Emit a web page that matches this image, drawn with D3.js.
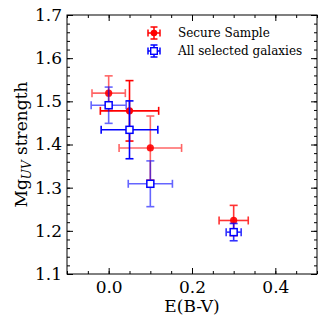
<!DOCTYPE html>
<html>
<head>
<meta charset="utf-8">
<script src="https://cdn.jsdelivr.net/npm/d3@7"></script>
<style>
  body { margin: 0; background: #fff; }
  text { font-family: 'DejaVu Serif', serif; fill: #000; }
</style>
</head>
<body>
<svg width="327" height="327"></svg>
<script>
/* global d3 */
// data
const ebv = [0.0, 0.05, 0.1, 0.3]
const secureMg = [1.519, 1.478, 1.392, 1.224]
const secureErrX = [0.04, 0.07, 0.075, 0.035]
const secureErrY = [0.04, 0.07, 0.074, 0.035]
const allMg = [1.491, 1.434, 1.309, 1.197]
const allErrX = [0.042, 0.068, 0.053, 0.018]
const allErrY = [0.042, 0.067, 0.053, 0.02]
const seriesNames = ['Secure Sample', 'All selected galaxies']
const xTicks = [0.0, 0.2, 0.4]
const yTicks = [1.1, 1.2, 1.3, 1.4, 1.5, 1.6, 1.7]

// styling
const redC = '#ff0000'
const blueC = '#0000ff'
const barOpacity = [0.6, 1, 0.6, 0.8]
const capHalf = 4

const svg = d3.select('svg')
const width = +svg.attr('width')
const height = +svg.attr('height')
const margin = { top: 15, right: 10, bottom: 53, left: 67 }

const x = d3.scaleLinear().domain([-0.1, 0.5]).range([margin.left, width - margin.right])
const y = d3.scaleLinear().domain([1.1, 1.7]).range([height - margin.bottom, margin.top])

const xMinor = d3.range(-0.1, 0.5001, 0.05).map(d => +d.toFixed(2))
const yMinor = d3.range(1.1, 1.7001, 0.02).map(d => +d.toFixed(2))

function styleAxis (g) {
  g.select('.domain').remove()
  g.selectAll('.tick line').attr('stroke', '#000').attr('stroke-width', 1)
  g.selectAll('.tick text').style('font-family', "'DejaVu Serif', serif").style('font-size', '17px')
}

// major + minor ticks on every side, pointing inward
const bottomY = height - margin.bottom
const rightX = width - margin.right
svg.append('g').attr('transform', `translate(0,${bottomY})`)
  .call(d3.axisBottom(x).tickValues(xTicks).tickSize(-6).tickPadding(7).tickFormat(d3.format('.1f')))
  .call(styleAxis)
svg.append('g').attr('transform', `translate(0,${bottomY})`)
  .call(d3.axisBottom(x).tickValues(xMinor).tickSize(-3).tickFormat(''))
  .call(styleAxis)
svg.append('g').attr('transform', `translate(0,${margin.top})`)
  .call(d3.axisTop(x).tickValues(xTicks).tickSize(-6).tickFormat(''))
  .call(styleAxis)
svg.append('g').attr('transform', `translate(0,${margin.top})`)
  .call(d3.axisTop(x).tickValues(xMinor).tickSize(-3).tickFormat(''))
  .call(styleAxis)
svg.append('g').attr('transform', `translate(${margin.left},0)`)
  .call(d3.axisLeft(y).tickValues(yTicks).tickSize(-6).tickPadding(5).tickFormat(d3.format('.1f')))
  .call(styleAxis)
svg.append('g').attr('transform', `translate(${margin.left},0)`)
  .call(d3.axisLeft(y).tickValues(yMinor).tickSize(-3).tickFormat(''))
  .call(styleAxis)
svg.append('g').attr('transform', `translate(${rightX},0)`)
  .call(d3.axisRight(y).tickValues(yTicks).tickSize(-6).tickFormat(''))
  .call(styleAxis)
svg.append('g').attr('transform', `translate(${rightX},0)`)
  .call(d3.axisRight(y).tickValues(yMinor).tickSize(-3).tickFormat(''))
  .call(styleAxis)

svg.append('rect')
  .attr('x', margin.left).attr('y', margin.top)
  .attr('width', rightX - margin.left).attr('height', bottomY - margin.top)
  .attr('fill', 'none').attr('stroke', '#000').attr('stroke-width', 1)

// error bars
function drawBars (g, cx, cy, x0, x1, y0, y1, color, op) {
  const b = g.append('g').attr('stroke', color).attr('stroke-width', 1.6).attr('opacity', op)
  b.append('line').attr('x1', x0).attr('x2', x1).attr('y1', cy).attr('y2', cy)
  b.append('line').attr('x1', cx).attr('x2', cx).attr('y1', y0).attr('y2', y1)
  b.append('line').attr('x1', x0).attr('x2', x0).attr('y1', cy - capHalf).attr('y2', cy + capHalf)
  b.append('line').attr('x1', x1).attr('x2', x1).attr('y1', cy - capHalf).attr('y2', cy + capHalf)
  b.append('line').attr('x1', cx - capHalf).attr('x2', cx + capHalf).attr('y1', y0).attr('y2', y0)
  b.append('line').attr('x1', cx - capHalf).attr('x2', cx + capHalf).attr('y1', y1).attr('y2', y1)
}

const secure = svg.append('g').attr('class', 'secure')
ebv.forEach((e, i) => {
  drawBars(secure, x(e), y(secureMg[i]),
    x(e - secureErrX[i]), x(e + secureErrX[i]),
    y(secureMg[i] + secureErrY[i]), y(secureMg[i] - secureErrY[i]), redC, barOpacity[i])
  secure.append('circle')
    .attr('cx', x(e)).attr('cy', y(secureMg[i])).attr('r', 3.6)
    .attr('fill', redC).attr('opacity', barOpacity[i] < 1 ? 0.9 : 1)
})

const all = svg.append('g').attr('class', 'all')
ebv.forEach((e, i) => {
  drawBars(all, x(e), y(allMg[i]),
    x(e - allErrX[i]), x(e + allErrX[i]),
    y(allMg[i] + allErrY[i]), y(allMg[i] - allErrY[i]), blueC, barOpacity[i])
  all.append('rect')
    .attr('x', x(e) - 3.5).attr('y', y(allMg[i]) - 3.5)
    .attr('width', 7).attr('height', 7)
    .attr('fill', '#fff').attr('stroke', blueC).attr('stroke-width', 1.5)
})

// legend
const legend = svg.append('g').attr('transform', 'translate(154,33)')
seriesNames.forEach((name, i) => {
  const row = legend.append('g').attr('transform', `translate(0,${i * 18})`)
  const color = i === 0 ? redC : blueC
  const s = row.append('g').attr('stroke', color).attr('stroke-width', 1.5)
  s.append('line').attr('x1', -6).attr('x2', 6).attr('y1', 0).attr('y2', 0)
  s.append('line').attr('x1', 0).attr('x2', 0).attr('y1', -6).attr('y2', 6)
  s.append('line').attr('x1', -6).attr('x2', -6).attr('y1', -3.5).attr('y2', 3.5)
  s.append('line').attr('x1', 6).attr('x2', 6).attr('y1', -3.5).attr('y2', 3.5)
  s.append('line').attr('x1', -3.5).attr('x2', 3.5).attr('y1', -6).attr('y2', -6)
  s.append('line').attr('x1', -3.5).attr('x2', 3.5).attr('y1', 6).attr('y2', 6)
  if (i === 0) {
    row.append('circle').attr('r', 3.3).attr('fill', redC)
  } else {
    row.append('rect').attr('x', -3.3).attr('y', -3.3).attr('width', 6.6).attr('height', 6.6)
      .attr('fill', '#fff').attr('stroke', blueC).attr('stroke-width', 1.4)
  }
  row.append('text').attr('x', 24).attr('y', 0).attr('dy', '0.35em')
    .style('font-size', '12px').text(name)
})

// axis labels
svg.append('text')
  .attr('x', (margin.left + rightX) / 2).attr('y', 312)
  .attr('text-anchor', 'middle').style('font-size', '17px')
  .text('E(B-V)')

const yl = svg.append('text')
  .attr('transform', `translate(27,${(margin.top + bottomY) / 2}) rotate(-90)`)
  .attr('text-anchor', 'middle').style('font-size', '17px')
yl.append('tspan').text('Mg')
yl.append('tspan').attr('dy', 4).style('font-size', '12px').style('font-style', 'italic').text('UV')
yl.append('tspan').attr('dy', -4).text(' strength')
</script>
</body>
</html>
